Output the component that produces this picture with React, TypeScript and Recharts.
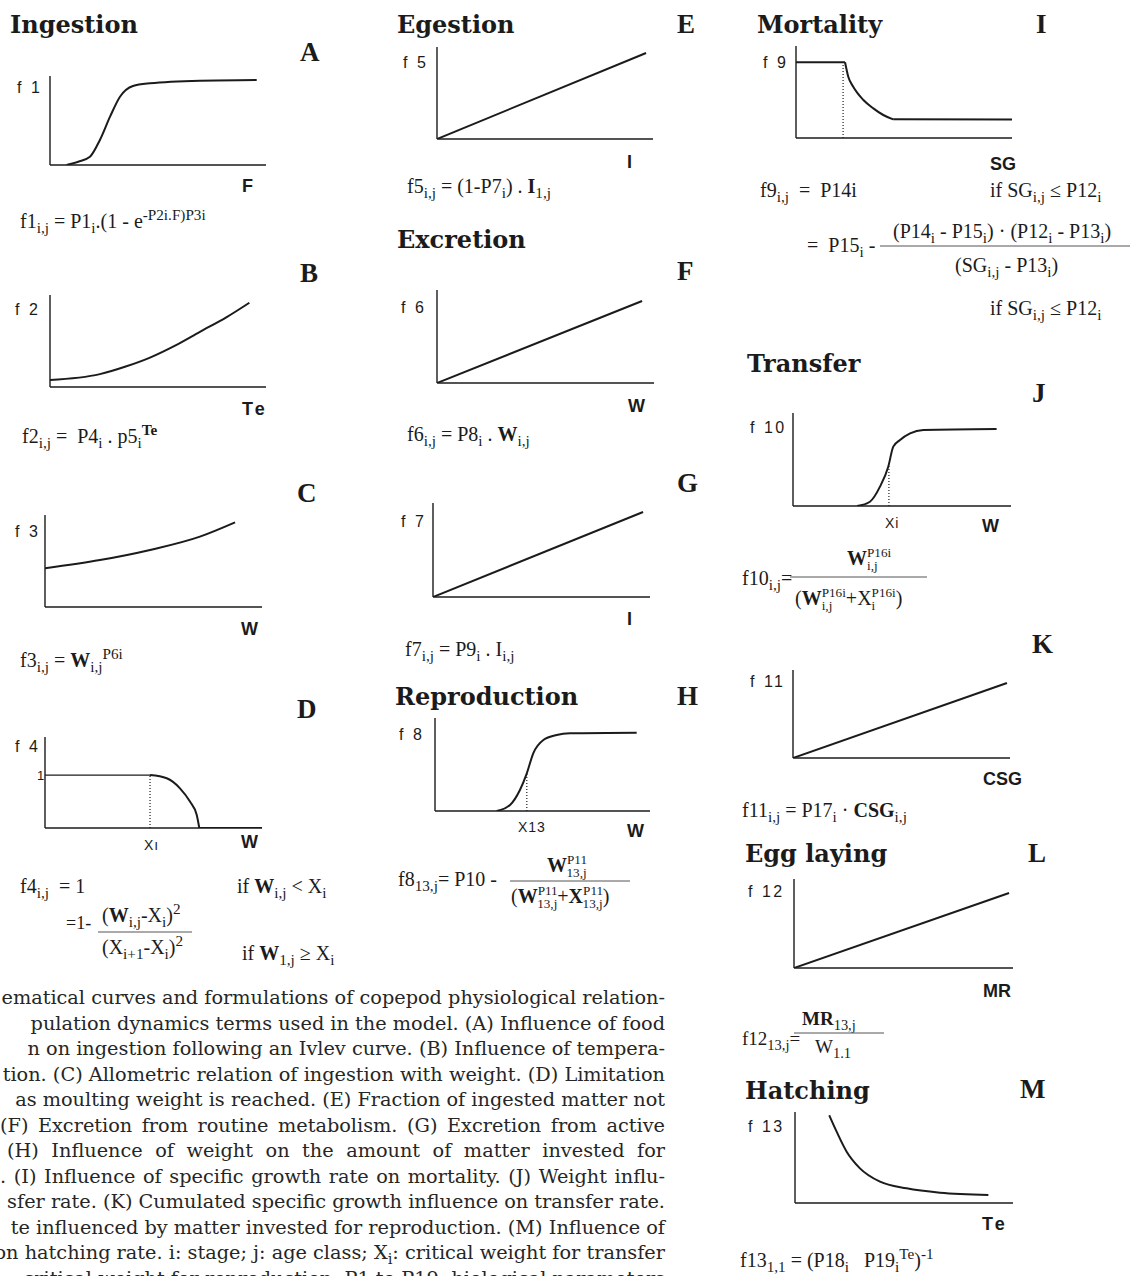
import React from "react";
import { LineChart, Line, XAxis, YAxis, ReferenceLine } from "recharts";

const INK = "#1b1b1b";
const SERIF = "'Liberation Serif', 'Times New Roman', serif";
const BOOK = "'DejaVu Serif', serif";
const SANS = "'Liberation Sans', Arial, sans-serif";
const TITLE = "'DejaVu Serif', serif";
const PAD = 6;

// A - Ivlev ingestion vs food
const f1X = [0.77, 1.31, 1.85, 2.31, 2.78, 3.24, 3.84, 4.63, 6.94, 9.57];
const f1Y = [0, 0.37, 0.93, 2.81, 5.43, 7.67, 8.88, 9.18, 9.47, 9.55];
// B - temperature
const f2X = [0, 2.31, 3.47, 4.63, 5.79, 6.94, 8.18, 9.23];
const f2Y = [0.76, 1.4, 2.2, 3.2, 4.5, 6.0, 7.6, 9.16];
// C - allometric
const f3X = [0, 2.53, 4.84, 7.14, 8.76];
const f3Y = [4.2, 5.1, 6.2, 7.65, 9.2];
// D - moulting limitation (plateau = 1)
const f4FlatX = [0, 4.84];
const f4FlatY = [1, 1];
const f4ArcX = [4.84, 5.61, 6.22, 6.68, 6.99, 7.11];
const f4ArcY = [1, 0.94, 0.75, 0.5, 0.25, 0];
const f4TailX = [7.11, 10];
const f4TailY = [0, 0];
const f4Xi = [4.84, 1];
// E, F, G - linear
const f5X = [0, 9.68];
const f5Y = [0, 9.35];
const f6X = [0, 9.45];
const f6Y = [0, 8.82];
const f7X = [0, 9.68];
const f7Y = [0, 9.04];
// H - reproduction
const f8X = [2.87, 3.49, 3.95, 4.27, 4.57, 5.04, 5.66, 6.28, 9.38];
const f8Y = [0, 0.65, 2.26, 4.05, 6.2, 7.63, 8.17, 8.35, 8.42];
const f8X13 = [4.27, 4.05];
// I - mortality
const f9FlatX = [0, 2.27];
const f9FlatY = [8.23, 8.23];
const f9DecX = [2.27, 2.42, 2.65, 3.12, 3.58, 4.04, 4.5];
const f9DecY = [8.23, 6.66, 5.57, 4.13, 3.22, 2.5, 2.03];
const f9TailX = [4.5, 10];
const f9TailY = [2.03, 2.0];
const f9P12 = [2.18, 8.23];
// J - transfer
const f10X = [2.94, 3.53, 3.99, 4.37, 4.6, 4.91, 5.37, 5.98, 9.34];
const f10Y = [0, 0.46, 2.08, 4.23, 6.38, 7.1, 7.81, 8.17, 8.28];
const f10Xi = [4.4, 4.4];
// K, L - linear
const f11X = [0, 9.86];
const f11Y = [0, 8.52];
const f12X = [0, 9.82];
const f12Y = [0, 8.43];
// M - hatching
const f13X = [1.57, 1.91, 2.37, 2.98, 3.9, 5.12, 6.65, 8.87];
const f13Y = [9.64, 7.84, 5.64, 3.81, 2.34, 1.61, 1.13, 0.88];

const captionLines = [
  "ematical curves and formulations of copepod physiological relation-",
  "pulation dynamics terms used in the model. (A) Influence of food",
  "n on ingestion following an Ivlev curve. (B) Influence of tempera-",
  "tion. (C) Allometric relation of ingestion with weight. (D) Limitation",
  "as moulting weight is reached. (E) Fraction of ingested matter not",
  "(F) Excretion from routine metabolism. (G) Excretion from active",
  "(H) Influence of weight on the amount of matter invested for",
  ". (I) Influence of specific growth rate on mortality. (J) Weight influ-",
  "sfer rate. (K) Cumulated specific growth influence on transfer rate.",
  "te influenced by matter invested for reproduction. (M) Influence of",
  "on hatching rate. i: stage; j: age class; X_{i}: critical weight for transfer",
  "; critical weight for reproduction. P1 to P19: biological parameters",
];
// left edge of the lines that start inside the page (others run off the left)
const captionFrom = [-1, -1, -1, -1, -1, 0, 7, 0, -1, -1, -1, -1];

const zip = (xs: number[], ys: number[]) => xs.map((x, i) => ({ x, y: ys[i] }));

let ctx: CanvasRenderingContext2D | null = null;
function measure(text: string, size: number, family: string, bold = false) {
  if (!ctx) ctx = document.createElement("canvas").getContext("2d");
  if (!ctx) return text.length * size * 0.5;
  ctx.font = `${bold ? "bold " : ""}${size}px ${family}`;
  return ctx.measureText(text).width;
}

type Series = { xs: number[]; ys: number[]; curve?: "monotone" | "linear"; w?: number };

function Panel({ g, series, marks = [], yMax = 10 }: { g: number[]; series: Series[]; marks?: number[][]; yMax?: number }) {
  const [l, t, r, b] = g;
  const w = r - l;
  const h = b - t;
  return (
    <div style={{ position: "absolute", left: l - PAD, top: t - PAD }}>
      <LineChart width={w + 2 * PAD} height={h + 2 * PAD} margin={{ top: PAD, right: PAD, bottom: 0, left: 0 }}>
        <XAxis type="number" dataKey="x" domain={[0, 10]} allowDataOverflow tick={false} tickLine={false} axisLine={{ stroke: INK, strokeWidth: 1.4 }} height={PAD} />
        <YAxis type="number" domain={[0, yMax]} allowDataOverflow tick={false} tickLine={false} axisLine={{ stroke: INK, strokeWidth: 1.4 }} width={PAD} />
        {series.map((s, i) => (
          <Line key={i} data={zip(s.xs, s.ys)} dataKey="y" type={s.curve ?? "monotone"} stroke={INK} strokeWidth={s.w ?? 2} dot={false} isAnimationActive={false} />
        ))}
        {marks.map((m, i) => (
          <ReferenceLine key={i} segment={[{ x: m[0], y: 0 }, { x: m[0], y: m[1] }]} stroke={INK} strokeWidth={1.2} strokeDasharray="1 2" />
        ))}
      </LineChart>
    </div>
  );
}

type Seg = { t: string; m: "n" | "b" | "p"; bold: boolean; over?: string; stack?: boolean };

// _{sub} ^{sup} !{bold} @{sup|sub} (stacked); a leading * inside braces makes it bold
function parse(src: string): Seg[] {
  const segs: Seg[] = [];
  let buf = "";
  let i = 0;
  const flush = () => {
    if (buf) segs.push({ t: buf, m: "n", bold: false });
    buf = "";
  };
  while (i < src.length) {
    const c = src[i];
    if ("_^!@".includes(c) && src[i + 1] === "{") {
      flush();
      const end = src.indexOf("}", i);
      let body = src.slice(i + 2, end);
      if (c === "@") {
        const [a, b] = body.split("|");
        segs.push({ t: a, m: "p", bold: false, stack: true });
        segs.push({ t: b, m: "b", bold: false, over: a, stack: true });
      } else {
        const bold = c === "!" || body.startsWith("*");
        if (body.startsWith("*")) body = body.slice(1);
        segs.push({ t: body, m: c === "_" ? "b" : c === "^" ? "p" : "n", bold });
      }
      i = end + 1;
    } else {
      buf += c;
      i++;
    }
  }
  flush();
  return segs;
}

type RichProps = {
  x: number;
  y: number;
  s: string;
  size?: number;
  anchor?: string;
  family?: string;
  fill?: string;
  fit?: number;
};

function Rich({ x, y, s, size = 20, anchor = "start", family = SERIF, fill = INK, fit }: RichProps) {
  let off = 0;
  let pend = 0;
  let wordSpacing: number | undefined;
  if (fit) {
    const gaps = (s.match(/ /g) || []).length;
    if (gaps) wordSpacing = (fit - measure(s, size, family)) / gaps;
  }
  return (
    <text x={x} y={y} fontSize={size} fontFamily={family} fill={fill} textAnchor={anchor} wordSpacing={wordSpacing} style={{ whiteSpace: "pre" }}>
      {parse(s).map((g, k) => {
        const target = g.m === "b" ? size * 0.27 : g.m === "p" ? -size * 0.42 : 0;
        const dy = target - off;
        off = target;
        const fs = g.m === "n" ? size : size * (g.stack ? 0.66 : 0.76);
        let dx = pend;
        pend = 0;
        if (g.over) {
          const wOver = measure(g.over, fs, family);
          const wSelf = measure(g.t, fs, family);
          dx -= wOver;
          pend = Math.max(0, wOver - wSelf);
        }
        return (
          <tspan key={k} dy={dy} dx={dx || undefined} fontSize={fs} fontWeight={g.bold ? 700 : 400}>
            {g.t}
          </tspan>
        );
      })}
    </text>
  );
}

const T = ({ x, y, c }: { x: number; y: number; c: string }) => (
  <text x={x} y={y} fontFamily={TITLE} fontWeight={700} fontSize={24} fill={INK}>{c}</text>
);
const Lt = ({ x, y, c }: { x: number; y: number; c: string }) => (
  <text x={x} y={y} fontFamily={SERIF} fontWeight={700} fontSize={27} fill={INK}>{c}</text>
);
const Fy = ({ x, y, c }: { x: number; y: number; c: string }) => (
  <text x={x} y={y} fontFamily={SANS} fontSize={16} letterSpacing={2.5} fill={INK}>{c}</text>
);
const Bx = ({ x, y, c, ls = 0 }: { x: number; y: number; c: string; ls?: number }) => (
  <text x={x} y={y} fontFamily={SANS} fontWeight={700} fontSize={18} letterSpacing={ls} fill={INK}>{c}</text>
);
const Sx = ({ x, y, c, size = 14 }: { x: number; y: number; c: string; size?: number }) => (
  <text x={x} y={y} fontFamily={SANS} fontSize={size} letterSpacing={1} fill={INK}>{c}</text>
);
const Bar = ({ x1, x2, y }: { x1: number; x2: number; y: number }) => (
  <line x1={x1} x2={x2} y1={y} y2={y} stroke="#555" strokeWidth={1} />
);

export default function App() {
  return (
    <div style={{ position: "absolute", left: 0, top: 0, width: 1137, height: 1276, overflow: "hidden", background: "#fff" }}>
      <Panel g={[50, 76, 266, 165]} series={[{ xs: f1X, ys: f1Y }]} />
      <Panel g={[50, 295, 266, 387]} series={[{ xs: f2X, ys: f2Y }]} />
      <Panel g={[45, 515, 262, 607]} series={[{ xs: f3X, ys: f3Y }]} />
      <Panel
        g={[45, 737, 262, 828]}
        yMax={1.72}
        series={[
          { xs: f4FlatX, ys: f4FlatY, curve: "linear", w: 1.3 },
          { xs: f4ArcX, ys: f4ArcY },
          { xs: f4TailX, ys: f4TailY, curve: "linear" },
        ]}
        marks={[f4Xi]}
      />
      <Panel g={[437, 47, 653, 139]} series={[{ xs: f5X, ys: f5Y, curve: "linear" }]} />
      <Panel g={[437, 290, 654, 383]} series={[{ xs: f6X, ys: f6Y, curve: "linear" }]} />
      <Panel g={[433, 503, 650, 597]} series={[{ xs: f7X, ys: f7Y, curve: "linear" }]} />
      <Panel g={[435, 718, 650, 811]} series={[{ xs: f8X, ys: f8Y }]} marks={[f8X13]} />
      <Panel
        g={[796, 46, 1012, 138]}
        series={[
          { xs: f9FlatX, ys: f9FlatY, curve: "linear" },
          { xs: f9DecX, ys: f9DecY },
          { xs: f9TailX, ys: f9TailY, curve: "linear" },
        ]}
        marks={[f9P12]}
      />
      <Panel g={[793, 413, 1011, 506]} series={[{ xs: f10X, ys: f10Y }]} marks={[f10Xi]} />
      <Panel g={[793, 670, 1010, 758]} series={[{ xs: f11X, ys: f11Y, curve: "linear" }]} />
      <Panel g={[794, 879, 1013, 968]} series={[{ xs: f12X, ys: f12Y, curve: "linear" }]} />
      <Panel g={[795, 1112, 1013, 1203]} series={[{ xs: f13X, ys: f13Y }]} />

      <svg width={1137} height={1276} style={{ position: "absolute", left: 0, top: 0, pointerEvents: "none" }}>
        <T x={10} y={33} c="Ingestion" />
        <T x={397} y={33} c="Egestion" />
        <T x={397} y={248} c="Excretion" />
        <T x={395} y={705} c="Reproduction" />
        <T x={757} y={33} c="Mortality" />
        <T x={747} y={372} c="Transfer" />
        <T x={745} y={862} c="Egg  laying" />
        <T x={745} y={1099} c="Hatching" />

        <Lt x={300} y={61} c="A" />
        <Lt x={300} y={282} c="B" />
        <Lt x={297} y={502} c="C" />
        <Lt x={297} y={718} c="D" />
        <Lt x={677} y={33} c="E" />
        <Lt x={677} y={280} c="F" />
        <Lt x={677} y={492} c="G" />
        <Lt x={677} y={705} c="H" />
        <Lt x={1036} y={33} c="I" />
        <Lt x={1032} y={402} c="J" />
        <Lt x={1032} y={653} c="K" />
        <Lt x={1028} y={862} c="L" />
        <Lt x={1020} y={1098} c="M" />

        <Fy x={17} y={93} c="f 1" />
        <Fy x={15} y={315} c="f 2" />
        <Fy x={15} y={537} c="f 3" />
        <Fy x={15} y={752} c="f 4" />
        <Fy x={403} y={68} c="f 5" />
        <Fy x={401} y={313} c="f 6" />
        <Fy x={401} y={527} c="f 7" />
        <Fy x={399} y={740} c="f 8" />
        <Fy x={763} y={68} c="f 9" />
        <Fy x={750} y={433} c="f 10" />
        <Fy x={750} y={687} c="f 11" />
        <Fy x={748} y={897} c="f 12" />
        <Fy x={748} y={1132} c="f 13" />

        <Bx x={242} y={192} c="F" />
        <Bx x={242} y={415} c="Te" ls={3} />
        <Bx x={241} y={635} c="W" />
        <Bx x={241} y={848} c="W" />
        <Bx x={627} y={168} c="I" />
        <Bx x={628} y={412} c="W" />
        <Bx x={627} y={625} c="I" />
        <Bx x={627} y={837} c="W" />
        <Bx x={990} y={170} c="SG" />
        <Bx x={982} y={532} c="W" />
        <Bx x={983} y={785} c="CSG" />
        <Bx x={983} y={997} c="MR" />
        <Bx x={982} y={1230} c="Te" ls={3} />

        <Sx x={37} y={780} c="1" size={13} />
        <Sx x={144} y={850} c="Xı" />
        <Sx x={518} y={832} c="X13" />
        <Sx x={885} y={528} c="Xi" />

        <Rich x={20} y={228} s="f1_{i,j} = P1_{i}.(1 - e^{-P2i.F)}^{P3i}" />
        <Rich x={22} y={443} s="f2_{i,j} =  P4_{i} . p5_{i}^{*Te}" />
        <Rich x={20} y={667} s="f3_{i,j} = !{W}_{i,j}^{P6i}" />
        <Rich x={20} y={893} s="f4_{i,j}  = 1" />
        <Rich x={237} y={893} s="if !{W}_{i,j} < X_{i}" />
        <Rich x={66} y={929} s="=1-" size={18} />
        <Rich x={102} y={922} s="(!{W}_{i,j}-X_{i})^{2}" />
        <Bar x1={98} x2={192} y={932} />
        <Rich x={102} y={954} s="(X_{i+1}-X_{i})^{2}" />
        <Rich x={242} y={960} s="if !{W}_{1,j} ≥ X_{i}" />

        <Rich x={407} y={193} s="f5_{i,j} = (1-P7_{i}) . !{I}_{1,j}" />
        <Rich x={407} y={441} s="f6_{i,j} = P8_{i} . !{W}_{i,j}" />
        <Rich x={405} y={656} s="f7_{i,j} = P9_{i} . I_{i,j}" />
        <Rich x={398} y={886} s="f8_{13,j}= P10 -" />
        <Rich x={547} y={872} s="!{W}@{P11|13,j}" />
        <Bar x1={510} x2={630} y={881} />
        <Rich x={511} y={903} s="(!{W}@{P11|13,j}+!{X}@{P11|13,j})" />

        <Rich x={760} y={197} s="f9_{i,j}  =  P14i" />
        <Rich x={990} y={197} s="if SG_{i,j} ≤ P12_{i}" />
        <Rich x={807} y={252} s="=  P15_{i} -" />
        <Rich x={893} y={238} s="(P14_{i} - P15_{i}) · (P12_{i} - P13_{i})" />
        <Bar x1={880} x2={1130} y={246} />
        <Rich x={955} y={272} s="(SG_{i,j} - P13_{i})" />
        <Rich x={990} y={315} s="if SG_{i,j} ≤ P12_{i}" />

        <Rich x={742} y={585} s="f10_{i,j}=" />
        <Rich x={847} y={565} s="!{W}@{P16i|i,j}" />
        <Bar x1={790} x2={927} y={577} />
        <Rich x={795} y={605} s="(!{W}@{P16i|i,j}+X@{P16i|i})" />
        <Rich x={742} y={817} s="f11_{i,j} = P17_{i} · !{CSG}_{i,j}" />
        <Rich x={742} y={1045} s="f12_{13,j}=" size={19} />
        <Rich x={802} y={1025} s="!{MR}_{13,j}" size={19} />
        <Bar x1={794} x2={884} y={1033} />
        <Rich x={815} y={1053} s="W_{1.1}" size={19} />
        <Rich x={740} y={1267} s="f13_{1,1} = (P18_{i}   P19_{i}^{Te})^{-1}" />

        {captionLines.map((line, k) =>
          captionFrom[k] >= 0 ? (
            <Rich key={k} x={captionFrom[k]} y={1004 + 25.5 * k} s={line} size={19.3} family={BOOK} fill="#262626" fit={665 - captionFrom[k]} />
          ) : (
            <Rich key={k} x={665} y={1004 + 25.5 * k} s={line} size={19.3} family={BOOK} fill="#262626" anchor="end" />
          )
        )}
      </svg>
    </div>
  );
}
